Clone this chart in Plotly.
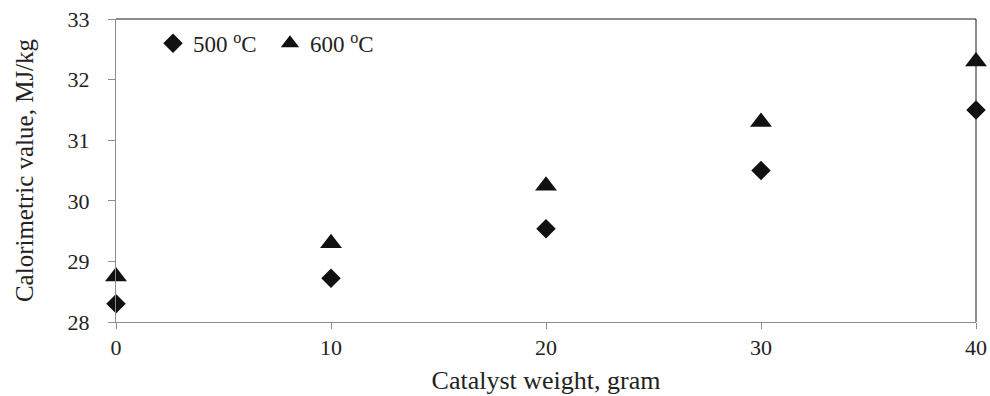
import plotly.graph_objects as go

catalyst_weight = [0, 10, 20, 30, 40]
cal_500 = [28.3, 28.72, 29.54, 30.5, 31.5]
cal_600 = [28.75, 29.3, 30.25, 31.3, 32.3]
series_names = ["500 <sup>o</sup>C", "600 <sup>o</sup>C"]
x_ticks = [0, 10, 20, 30, 40]
y_ticks = [28, 29, 30, 31, 32, 33]

FONT = "Liberation Serif, Times New Roman, serif"
TXT = "#222222"
AX = "#8c8c8c"

fig = go.Figure()
fig.add_trace(go.Scatter(
    x=catalyst_weight, y=cal_500, mode="markers", name=series_names[0],
    marker=dict(symbol="diamond", size=15, color="#111111"),
    cliponaxis=False,
))
fig.add_trace(go.Scatter(
    x=catalyst_weight, y=cal_600, mode="markers", name=series_names[1],
    marker=dict(symbol="triangle-up", size=19, color="#111111"),
    cliponaxis=False,
))

fig.update_layout(
    width=990, height=396,
    margin=dict(l=116, r=14, t=19, b=74),
    paper_bgcolor="white", plot_bgcolor="white",
    font=dict(family=FONT, size=22, color=TXT),
    showlegend=True,
    legend=dict(
        orientation="h", x=0.043, y=0.92, xanchor="left", yanchor="middle",
        bgcolor="rgba(0,0,0,0)", borderwidth=0,
        font=dict(family=FONT, size=23, color=TXT),
        itemwidth=30, tracegroupgap=0, entrywidth=72, entrywidthmode="pixels",
    ),
    xaxis=dict(
        range=[0, 40], tickvals=x_ticks, showgrid=False, zeroline=False,
        showline=True, linecolor=AX, linewidth=1, automargin=False,
        ticks="outside", ticklen=6, tickcolor=AX, ticklabelstandoff=0,
        ticklabeloverflow="allow",
        tickfont=dict(family=FONT, size=22, color=TXT),
        title=dict(text="Catalyst weight, gram", font=dict(family=FONT, size=26, color=TXT), standoff=11),
    ),
    yaxis=dict(
        range=[28, 33], tickvals=y_ticks, showgrid=False, zeroline=False,
        showline=True, linecolor=AX, linewidth=1, automargin=False,
        ticks="outside", ticklen=7, tickcolor=AX, ticklabelstandoff=14,
        ticklabeloverflow="allow",
        tickfont=dict(family=FONT, size=22, color=TXT),
        title=dict(text="Calorimetric value, MJ/kg", font=dict(family=FONT, size=25, color=TXT), standoff=26),
    ),
    shapes=[
        dict(type="line", xref="paper", yref="paper", x0=0, x1=1, y0=1, y1=1,
             line=dict(color="#1a1a1a", width=1)),
        dict(type="line", xref="paper", yref="paper", x0=1, x1=1, y0=0, y1=1,
             line=dict(color="#1a1a1a", width=1)),
    ],
)

fig.write_html("out.html", config={"displayModeBar": False},
               post_script="document.body.style.margin='0';")
